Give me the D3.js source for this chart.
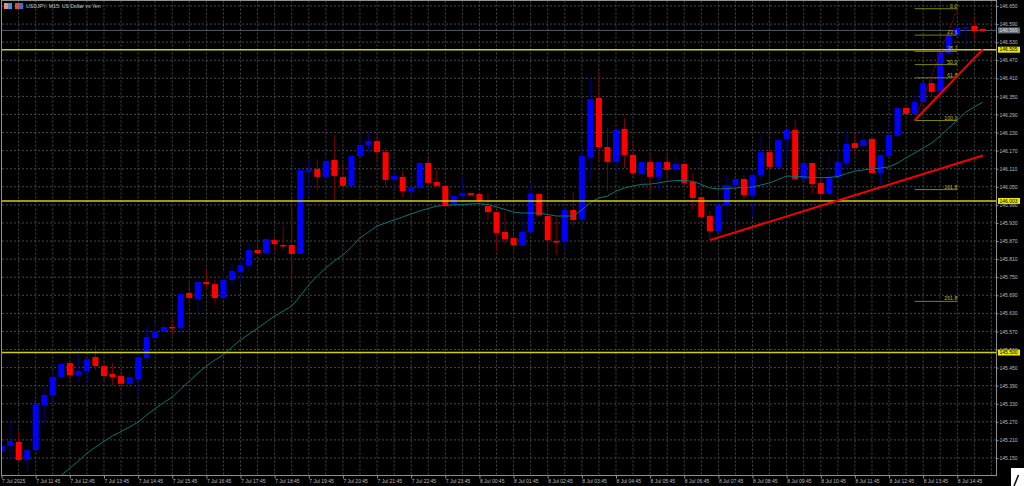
<!DOCTYPE html>
<html><head><meta charset="utf-8">
<script src="https://cdn.jsdelivr.net/npm/d3@7/dist/d3.min.js"></script>
<style>
html,body{margin:0;padding:0;background:#000;overflow:hidden}
svg{display:block}
text{font-family:"Liberation Sans",Arial,sans-serif}
</style></head><body>
<svg id="c" width="1024" height="486"></svg>
<script>
const opens=[145.173,145.190,145.203,145.143,145.176,145.326,145.359,145.419,145.465,145.425,
145.439,145.485,145.455,145.429,145.422,145.396,145.412,145.482,145.548,145.571,
145.585,145.581,145.698,145.678,145.734,145.727,145.681,145.741,145.767,145.790,
145.840,145.830,145.873,145.857,145.857,145.827,146.102,146.109,146.083,146.139,
146.083,146.053,146.152,146.189,146.202,146.165,146.073,146.083,146.036,146.046,
146.129,146.066,146.053,145.993,146.019,146.029,146.026,145.986,145.966,145.900,
145.880,145.857,145.900,146.026,145.953,145.870,145.867,145.973,145.943,146.149,
146.345,146.182,146.132,146.242,146.156,146.092,146.132,146.083,146.132,146.106,
146.126,146.066,146.016,145.953,145.903,145.990,146.056,146.076,146.023,146.089,
146.165,146.116,146.209,146.239,146.076,146.129,146.063,146.026,146.083,146.129,
146.195,146.185,146.209,146.096,146.152,146.219,146.312,146.292,146.331,146.394,
146.368,146.494,146.554,146.577,146.584,146.574];
const closes=[145.190,145.206,145.143,145.176,145.329,145.359,145.419,145.462,145.425,145.439,
145.478,145.455,145.422,145.419,145.396,145.419,145.485,145.552,145.571,145.585,
145.581,145.694,145.681,145.734,145.727,145.681,145.741,145.771,145.790,145.840,
145.830,145.877,145.860,145.853,145.827,146.106,146.109,146.083,146.136,146.086,
146.053,146.152,146.189,146.202,146.165,146.073,146.086,146.036,146.049,146.129,
146.063,146.053,145.986,146.019,146.029,146.023,146.003,145.966,145.897,145.877,
145.857,145.900,146.026,145.956,145.873,145.867,145.973,145.940,146.152,146.341,
146.182,146.132,146.239,146.156,146.096,146.132,146.083,146.132,146.106,146.126,
146.063,146.013,145.950,145.903,145.990,146.056,146.076,146.023,146.089,146.165,
146.116,146.205,146.239,146.076,146.129,146.059,146.026,146.083,146.132,146.192,
146.179,146.205,146.096,146.156,146.222,146.312,146.292,146.331,146.394,146.365,
146.497,146.554,146.577,146.580,146.567,146.567];
const highs=[145.190,145.276,145.240,145.176,145.329,145.382,145.439,145.462,145.472,145.508,
145.482,145.525,145.468,145.465,145.439,145.432,145.508,145.588,145.598,145.634,
145.618,145.698,145.737,145.734,145.777,145.741,145.771,145.797,145.807,145.863,
145.883,145.877,145.883,145.923,146.013,146.106,146.139,146.142,146.149,146.222,
146.129,146.152,146.225,146.229,146.229,146.179,146.106,146.102,146.053,146.149,
146.146,146.109,146.053,146.023,146.083,146.029,146.026,146.029,145.966,145.966,
145.890,145.963,146.059,146.026,146.006,145.950,145.990,146.033,146.199,146.414,
146.438,146.245,146.239,146.278,146.202,146.139,146.156,146.132,146.159,146.156,
146.126,146.096,146.016,145.970,146.016,146.086,146.076,146.089,146.099,146.222,
146.202,146.205,146.239,146.272,146.156,146.129,146.079,146.152,146.182,146.232,
146.229,146.239,146.209,146.156,146.262,146.312,146.312,146.351,146.394,146.411,
146.497,146.554,146.580,146.604,146.610,146.580];
const lows=[145.173,145.143,145.143,145.103,145.176,145.266,145.339,145.409,145.405,145.402,
145.389,145.442,145.402,145.392,145.379,145.366,145.362,145.472,145.548,145.545,
145.555,145.565,145.664,145.631,145.707,145.658,145.681,145.721,145.734,145.771,
145.830,145.830,145.837,145.840,145.727,145.827,146.023,146.039,146.079,146.006,
146.053,146.053,146.152,146.162,146.132,146.049,146.049,146.016,146.010,146.029,
146.063,146.046,145.986,145.983,146.006,146.023,145.983,145.940,145.837,145.860,
145.827,145.857,145.890,145.956,145.847,145.824,145.840,145.917,145.913,146.066,
146.132,146.036,146.096,146.112,146.079,146.056,146.033,146.039,146.073,146.066,
146.056,145.976,145.946,145.873,145.897,145.933,146.049,146.010,145.950,146.056,
146.066,146.116,146.146,146.073,146.073,146.026,146.000,146.026,146.083,146.106,
146.156,146.179,146.096,146.056,146.152,146.219,146.292,146.288,146.331,146.348,
146.368,146.494,146.554,146.464,146.537,146.564];
const maStart=7;
const maValues=[145.093,145.117,145.140,145.166,145.186,145.206,145.223,145.238,145.253,145.269,
145.293,145.314,145.334,145.352,145.379,145.405,145.432,145.455,145.475,145.493,
145.518,145.542,145.561,145.581,145.601,145.621,145.638,145.654,145.688,145.724,
145.754,145.781,145.804,145.824,145.850,145.880,145.900,145.920,145.930,145.940,
145.950,145.960,145.970,145.978,145.986,145.988,145.990,145.991,145.993,145.994,
145.991,145.983,145.975,145.966,145.963,145.963,145.963,145.958,145.953,145.953,
145.953,145.973,145.998,146.013,146.019,146.036,146.046,146.053,146.058,146.059,
146.063,146.068,146.071,146.071,146.068,146.058,146.046,146.043,146.044,146.046,
146.048,146.049,146.056,146.063,146.074,146.086,146.084,146.083,146.081,146.080,
146.081,146.084,146.094,146.102,146.106,146.109,146.112,146.116,146.129,146.146,
146.162,146.179,146.195,146.219,146.245,146.272,146.298,146.315,146.331];
const priceTicks=[146.650,146.590,146.530,146.470,146.410,146.350,146.290,146.230,146.170,146.110,146.050,145.990,145.930,145.870,145.810,145.750,145.690,145.630,145.570,145.510,145.450,145.390,145.330,145.270,145.210,145.150];
const timeLabels=["7 Jul 2025","7 Jul 11:45","7 Jul 12:45","7 Jul 13:45","7 Jul 14:45","7 Jul 15:45","7 Jul 16:45","7 Jul 17:45","7 Jul 18:45","7 Jul 19:45","7 Jul 20:45","7 Jul 21:45","7 Jul 22:45","7 Jul 23:45","8 Jul 00:45","8 Jul 01:45","8 Jul 02:45","8 Jul 03:45","8 Jul 04:45","8 Jul 05:45","8 Jul 06:45","8 Jul 07:45","8 Jul 08:45","8 Jul 09:45","8 Jul 10:45","8 Jul 11:45","8 Jul 12:45","8 Jul 13:45","8 Jul 14:45"];
const timeIndex=timeLabels.map((_,k)=>k*4);
const supportLevels=[146.505,146.003,145.500];
const currentPrice=146.569;
const fibTop=146.641, fibBottom=146.270;
const fibStartIdx=107, fibEndIdx=112;
const fibLevels=[0,23.6,38.2,50,61.8,100,161.8,261.8];
const trendLines=[[83,145.873,115,146.154],[107,146.270,115,146.507]];

const W=1024,H=486,plotL=2,plotR=996.5,plotT=0.5,plotB=475.5;
const x=d3.scaleLinear().domain([0,115]).range([1.6,982.9]);
const y=d3.scaleLinear().domain([145.150,146.650]).range([458,6]);
const svg=d3.select("#c");
svg.append("rect").attr("width",W).attr("height",H).attr("fill","#000");
svg.append("defs").append("clipPath").attr("id","plot").append("rect")
  .attr("x",plotL).attr("y",plotT).attr("width",plotR-plotL).attr("height",plotB-plotT);
const plot=svg.append("g").attr("clip-path","url(#plot)");

// grid
const gridColor="#454949";
const gridX=d3.range(0,118,2);
plot.append("g").selectAll("line").data(gridX).join("line")
  .attr("x1",d=>x(d)).attr("x2",d=>x(d)).attr("y1",plotT).attr("y2",plotB)
  .attr("stroke",gridColor).attr("stroke-width",1).attr("stroke-dasharray","2,2");
plot.append("g").selectAll("line").data(priceTicks).join("line")
  .attr("x1",plotL).attr("x2",plotR).attr("y1",d=>y(d)).attr("y2",d=>y(d))
  .attr("stroke",gridColor).attr("stroke-width",1).attr("stroke-dasharray","2,2");

// current price line
plot.append("line").attr("x1",plotL).attr("x2",plotR)
  .attr("y1",y(currentPrice)).attr("y2",y(currentPrice))
  .attr("stroke","#505b64").attr("stroke-width",1);

// candles
const idx=d3.range(opens.length);
const up=i=>closes[i]>=opens[i];
plot.append("g").selectAll("line").data(idx).join("line")
  .attr("x1",i=>x(i)).attr("x2",i=>x(i)).attr("y1",i=>y(highs[i])).attr("y2",i=>y(lows[i]))
  .attr("stroke",i=>up(i)?"#00007a":"#7a0000").attr("stroke-width",1);
plot.append("g").selectAll("rect").data(idx).join("rect")
  .attr("x",i=>x(i)-3).attr("width",6)
  .attr("y",i=>Math.min(y(opens[i]),y(closes[i])))
  .attr("height",i=>Math.max(1.5,Math.abs(y(opens[i])-y(closes[i]))))
  .attr("fill",i=>up(i)?"#0000ff":"#ff0000");

// moving average
plot.append("path").datum(maValues)
  .attr("d",d3.line().x((d,k)=>x(k+maStart)).y(d=>y(d)))
  .attr("fill","none").attr("stroke","#0c7474").attr("stroke-width",1);

// horizontal levels
plot.append("g").selectAll("line").data(supportLevels).join("line")
  .attr("x1",plotL).attr("x2",plotR).attr("y1",d=>y(d)).attr("y2",d=>y(d))
  .attr("stroke","#cfcf10").attr("stroke-width",1.5);

// fib
const fibPrice=l=>fibTop-(fibTop-fibBottom)*l/100;
plot.append("line").attr("x1",x(fibStartIdx)).attr("x2",x(fibEndIdx))
  .attr("y1",y(fibBottom)).attr("y2",y(fibTop))
  .attr("stroke","#800000").attr("stroke-width",1).attr("stroke-dasharray","3,1");
plot.append("g").selectAll("line").data(fibLevels).join("line")
  .attr("x1",x(fibStartIdx)).attr("x2",x(fibEndIdx))
  .attr("y1",l=>y(fibPrice(l))).attr("y2",l=>y(fibPrice(l)))
  .attr("stroke","#808000").attr("stroke-width",1);
plot.append("g").selectAll("text").data(fibLevels).join("text")
  .attr("x",x(fibEndIdx)).attr("y",l=>y(fibPrice(l))-1)
  .attr("text-anchor","end").attr("font-size",5.2).attr("fill","#b8b830")
  .text(l=>l.toFixed(1));

// trend lines
plot.append("g").selectAll("line").data(trendLines).join("line")
  .attr("x1",d=>x(d[0])).attr("y1",d=>y(d[1])).attr("x2",d=>x(d[2])).attr("y2",d=>y(d[3]))
  .attr("stroke","#f50000").attr("stroke-width",2);

// frame
svg.append("rect").attr("x",1.5).attr("y",0.5).attr("width",plotR-1.5).attr("height",plotB-0.5)
  .attr("fill","none").attr("stroke","#8f8f8f").attr("stroke-width",1);

// axes
const axisR=d3.axisRight(y).tickValues(priceTicks).tickSize(2).tickPadding(1).tickFormat(d3.format(".3f"));
const gR=svg.append("g").attr("transform",`translate(${plotR},0)`).call(axisR);
gR.select(".domain").remove();
gR.selectAll("line").attr("stroke","#8f8f8f");
gR.selectAll("text").attr("font-size",5).attr("fill","#bdbdbd").attr("font-family","Liberation Sans");

const axisB=d3.axisBottom(x).tickValues(timeIndex).tickSize(3).tickPadding(0).tickFormat((d,k)=>timeLabels[k]);
const gB=svg.append("g").attr("transform",`translate(0,${plotB})`).call(axisB);
gB.select(".domain").remove();
gB.selectAll("line").attr("stroke","#8f8f8f");
gB.selectAll("text").attr("font-size",5).attr("fill","#bdbdbd").attr("font-family","Liberation Sans")
  .attr("text-anchor","start").attr("x",0).attr("dy",null).attr("y",7.5);

// price labels
const lab=svg.append("g");
function tag(v,bg,fg){
  lab.append("rect").attr("x",plotR+1.5).attr("y",y(v)-3).attr("width",22).attr("height",6).attr("fill",bg);
  lab.append("text").attr("x",plotR+3).attr("y",y(v)+1.8).attr("font-size",5).attr("fill",fg).text(v.toFixed(3));
}
tag(currentPrice,"#66727c","#d8dde0");
supportLevels.forEach(v=>tag(v,"#e8e800","#000"));

// title and icons
const head=svg.append("g");
head.append("rect").attr("x",4).attr("y",3).attr("width",4).attr("height",6).attr("fill","#e88a84");
head.append("rect").attr("x",8).attr("y",3).attr("width",4).attr("height",6).attr("fill","#3f8fd8");
head.append("rect").attr("x",15).attr("y",3).attr("width",4).attr("height",6).attr("fill","#e04a3c");
head.append("rect").attr("x",19).attr("y",3).attr("width",4).attr("height",6).attr("fill","#2f78d0");
head.append("text").attr("x",26).attr("y",8).attr("font-size",5.2).attr("fill","#c4c4c4").text("USDJPY, M15:  US Dollar vs Yen");

// corner artefact
svg.append("rect").attr("x",1011).attr("y",468).attr("width",13).attr("height",18).attr("fill","#fff");
svg.append("line").attr("x1",1018.5).attr("y1",475).attr("x2",1014).attr("y2",486).attr("stroke","#111").attr("stroke-width",1.6);
</script>
</body></html>
